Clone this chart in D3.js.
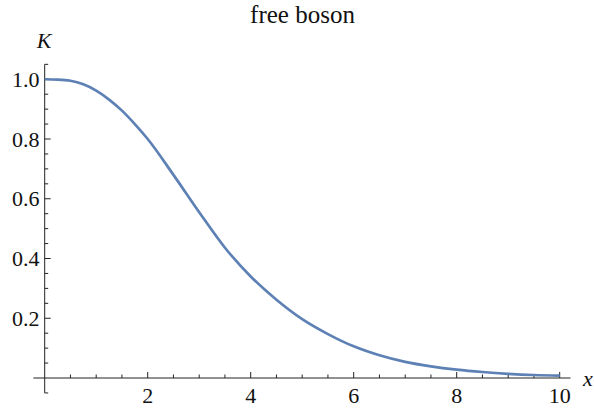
<!DOCTYPE html>
<html>
<head>
<meta charset="utf-8">
<script src="https://cdn.jsdelivr.net/npm/d3@7"></script>
<style>
  body { margin: 0; background: #fff; }
  svg { display: block; }
</style>
</head>
<body>
<div id="chart"></div>
<script>
// Values
const xValues = [0, 0.25, 0.5, 0.75, 1, 1.25, 1.5, 1.75, 2, 2.5, 3, 3.5, 4, 4.5, 5, 5.5, 6, 6.5, 7, 7.5, 8, 8.5, 9, 9.5, 10];
const kValues = [1.0, 0.999, 0.995, 0.983, 0.962, 0.932, 0.895, 0.85, 0.80, 0.68, 0.555, 0.436, 0.34, 0.262, 0.197, 0.147, 0.106, 0.076, 0.054, 0.039, 0.028, 0.020, 0.014, 0.010, 0.008];

const xMajor = [2, 4, 6, 8, 10];
const xMinor = [0.5, 1, 1.5, 2.5, 3, 3.5, 4.5, 5, 5.5, 6.5, 7, 7.5, 8.5, 9, 9.5];
const yMajor = [0.2, 0.4, 0.6, 0.8, 1.0];
const yMinor = [-0.05, 0.05, 0.1, 0.15, 0.25, 0.3, 0.35, 0.45, 0.5, 0.55, 0.65, 0.7, 0.75, 0.85, 0.9, 0.95, 1.05];

const W = 594, H = 410;
const FONT = '"Liberation Serif", monospace';
const AXIS_COLOR = '#222';
const LINE_COLOR = '#5e81b5';

const svg = d3.select('#chart').append('svg')
  .attr('width', W)
  .attr('height', H);

const x = d3.scaleLinear().domain([0, 10]).range([44.7, 559.7]);
const y = d3.scaleLinear().domain([0, 1]).range([378, 79.25]);

// Axis lines
svg.append('line')
  .attr('x1', x(-0.22)).attr('x2', x(10.21))
  .attr('y1', y(0)).attr('y2', y(0))
  .attr('stroke', AXIS_COLOR).attr('stroke-width', 1);

svg.append('line')
  .attr('x1', x(0)).attr('x2', x(0))
  .attr('y1', y(-0.05)).attr('y2', y(1.05))
  .attr('stroke', AXIS_COLOR).attr('stroke-width', 1);

// X ticks (pointing up)
svg.selectAll('.xmaj').data(xMajor).enter().append('line')
  .attr('x1', d => x(d)).attr('x2', d => x(d))
  .attr('y1', y(0)).attr('y2', y(0) - 6)
  .attr('stroke', AXIS_COLOR);
svg.selectAll('.xmin').data(xMinor).enter().append('line')
  .attr('x1', d => x(d)).attr('x2', d => x(d))
  .attr('y1', y(0)).attr('y2', y(0) - 3.5)
  .attr('stroke', AXIS_COLOR);
svg.selectAll('.xlab').data(xMajor).enter().append('text')
  .attr('x', d => x(d)).attr('y', 403)
  .attr('text-anchor', 'middle')
  .attr('font-family', FONT)
  .attr('font-size', 22)
  .attr('fill', '#111')
  .text(d => d);

// Y ticks (pointing right)
svg.selectAll('.ymaj').data(yMajor).enter().append('line')
  .attr('x1', x(0)).attr('x2', x(0) + 6)
  .attr('y1', d => y(d)).attr('y2', d => y(d))
  .attr('stroke', AXIS_COLOR);
svg.selectAll('.ymin').data(yMinor).enter().append('line')
  .attr('x1', x(0)).attr('x2', x(0) + 3.5)
  .attr('y1', d => y(d)).attr('y2', d => y(d))
  .attr('stroke', AXIS_COLOR);
svg.selectAll('.ylab').data(yMajor).enter().append('text')
  .attr('x', 39.5).attr('y', d => y(d) + 7.5)
  .attr('text-anchor', 'end')
  .attr('font-family', FONT)
  .attr('font-size', 22)
  .attr('fill', '#111')
  .text(d => d3.format('.1f')(d));

// Axis labels and title
svg.append('text')
  .attr('x', 44).attr('y', 48)
  .attr('text-anchor', 'middle')
  .attr('font-family', FONT)
  .attr('font-size', 22)
  .attr('font-style', 'italic')
  .attr('fill', '#111')
  .text('K');

svg.append('text')
  .attr('x', 583).attr('y', 386)
  .attr('font-family', FONT)
  .attr('font-size', 22)
  .attr('font-style', 'italic')
  .attr('fill', '#111')
  .text('x');

svg.append('text')
  .attr('x', 302.5).attr('y', 23)
  .attr('text-anchor', 'middle')
  .attr('font-family', FONT)
  .attr('font-size', 25)
  .attr('fill', '#111')
  .text('free boson');

// Curve
const line = d3.line()
  .x((d, i) => x(xValues[i]))
  .y(d => y(d))
  .curve(d3.curveMonotoneX);

svg.append('path')
  .datum(kValues)
  .attr('d', line)
  .attr('fill', 'none')
  .attr('stroke', LINE_COLOR)
  .attr('stroke-width', 2.7);
</script>
</body>
</html>
